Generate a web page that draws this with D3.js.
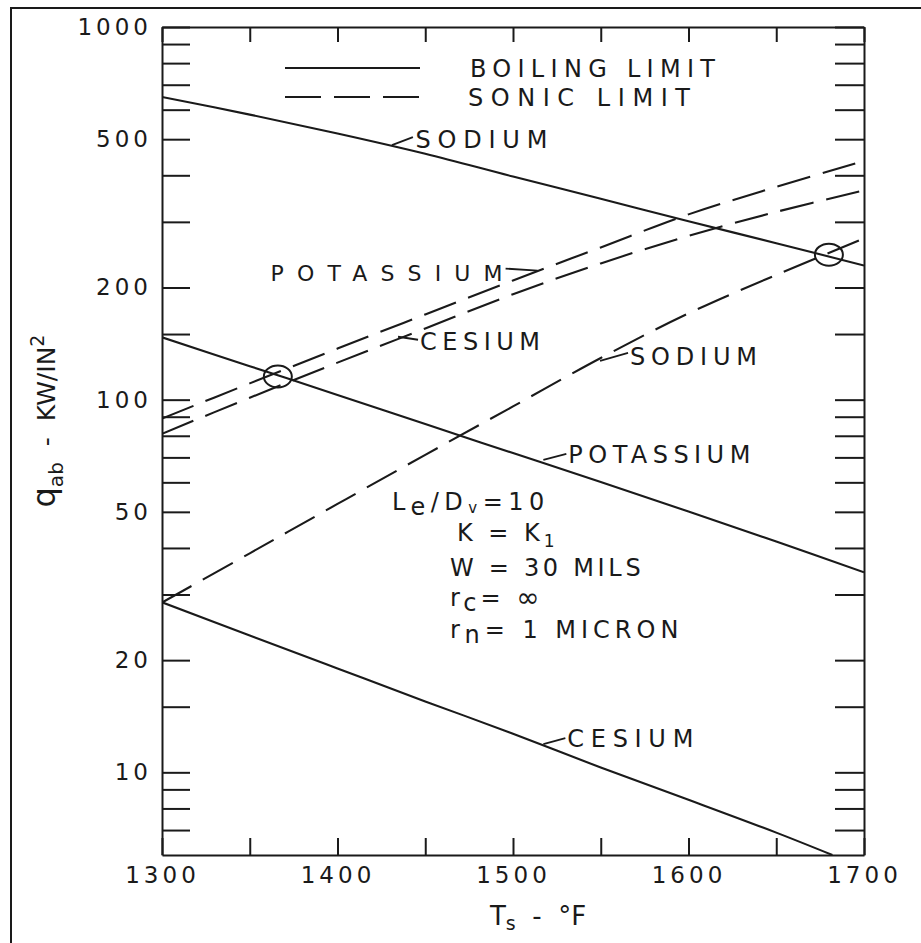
<!DOCTYPE html>
<html><head><meta charset="utf-8">
<script src="https://cdn.jsdelivr.net/npm/d3@7"></script>
<style>
html,body{margin:0;padding:0;background:#fff;}
svg{display:block;}
text{font-family:"DejaVu Sans",sans-serif;fill:#1a1a1a;}
</style></head><body>
<svg id="chart" width="921" height="943"></svg>
<script>
// ---------- data ----------
const temps = [1300, 1350, 1400, 1450, 1500, 1550, 1600, 1650, 1700];
const sodiumBoiling    = [649, 582, 518, 457, 397, 346, 301, 263, 229];
const potassiumBoiling = [147, 123, 103, 86, 71.9, 60.1, 50.1, 41.6, 34.4];
const cesiumBoilingT   = [1300, 1350, 1400, 1450, 1500, 1550, 1600, 1650, 1682];
const cesiumBoiling    = [28.6, 23.3, 19.0, 15.5, 12.7, 10.3, 8.44, 6.89, 6.0];
const potassiumSonic   = [89.0, 110.6, 137.1, 169.3, 208.9, 256.2, 314.2, 372.4, 437.3];
const cesiumSonic      = [81.0, 101.2, 125.7, 155.3, 191.8, 232.1, 275.1, 319.1, 364.5];
const sodiumSonic      = [28.55, 38.7, 52.5, 71.1, 95.9, 129.4, 170.4, 216.2, 270.8];
const transitionT = [1366, 1680];
const transitionV = [115.4, 245];

const yTicks = [7, 8, 9, 10, 15, 20, 30, 40, 50, 60, 70, 80, 90, 100, 150, 200, 300, 400, 500, 600, 700, 800, 900, 1000];
const yTickLabels = [10, 20, 50, 100, 200, 500, 1000];
const xTicks = [1300, 1350, 1400, 1450, 1500, 1550, 1600, 1650, 1700];
const xTickLabels = [1300, 1400, 1500, 1600, 1700];

const legendItems = ["BOILING LIMIT", "SONIC LIMIT"];
const labelTexts = ["SODIUM", "POTASSIUM", "CESIUM", "SODIUM", "POTASSIUM", "CESIUM"];
const labelT = [1431, 1514, 1434.5, 1549.6, 1517.3, 1517.3];
const labelV = [482, 222, 147.5, 127, 68.9, 11.9];

// ---------- layout / style ----------
const ink = "#1a1a1a";
const svg = d3.select("#chart");
const x = d3.scaleLinear().domain([1300, 1700]).range([162, 864]);
const y = d3.scaleLog().domain([6, 1000]).range([855, 27]);

// outer frame (left and top edges visible)
svg.append("path").attr("d", "M11,943V8H921").attr("fill", "none")
  .attr("stroke", ink).attr("stroke-width", 2);

function styleAxis(g) {
  g.select(".domain").attr("stroke", ink).attr("stroke-width", 2);
  g.selectAll(".tick line").attr("stroke", ink).attr("stroke-width", 2);
  g.selectAll(".tick text").attr("font-size", 23).attr("letter-spacing", "4px")
    .attr("font-family", "DejaVu Sans").attr("fill", ink);
}

svg.append("g").attr("transform", `translate(${x(1300)},0)`)
  .call(d3.axisLeft(y).tickValues(yTicks)
    .tickFormat(d => yTickLabels.includes(d) ? String(d) : "")
    .tickSize(-28).tickSizeOuter(0).tickPadding(10))
  .call(styleAxis);

svg.append("g").attr("transform", `translate(${x(1700)},0)`)
  .call(d3.axisRight(y).tickValues(yTicks).tickFormat("")
    .tickSize(-29).tickSizeOuter(0))
  .call(styleAxis);

svg.append("g").attr("transform", `translate(0,${y(1000)})`)
  .call(d3.axisTop(x).tickValues(xTicks).tickFormat("")
    .tickSize(-15).tickSizeOuter(0))
  .call(styleAxis);

svg.append("g").attr("transform", `translate(0,${y(6)})`)
  .call(d3.axisBottom(x).tickValues(xTicks)
    .tickFormat(d => xTickLabels.includes(d) ? String(d) : "")
    .tickSize(-17).tickSizeOuter(0).tickPadding(12))
  .call(styleAxis);

// clip
svg.append("clipPath").attr("id", "plotclip").append("rect")
  .attr("x", x(1300)).attr("y", y(1000)).attr("width", x(1700) - x(1300)).attr("height", y(6) - y(1000));

const line = d3.line().x(d => x(d[0])).y(d => y(d[1])).curve(d3.curveCatmullRom);
const series = [
  {t: temps, v: sodiumBoiling, dash: null},
  {t: temps, v: potassiumBoiling, dash: null},
  {t: cesiumBoilingT, v: cesiumBoiling, dash: null},
  {t: temps, v: potassiumSonic, dash: "34,13"},
  {t: temps, v: cesiumSonic, dash: "34,13"},
  {t: temps, v: sodiumSonic, dash: "34,13"}
];
const plot = svg.append("g").attr("clip-path", "url(#plotclip)");
plot.selectAll("path.series").data(series).join("path").attr("class", "series")
  .attr("d", s => line(s.t.map((t, i) => [t, s.v[i]])))
  .attr("fill", "none").attr("stroke", ink).attr("stroke-width", 2.1)
  .attr("stroke-dasharray", s => s.dash);

// transition circles
svg.selectAll("ellipse.tr").data(transitionT).join("ellipse").attr("class", "tr")
  .attr("cx", (t) => x(t)).attr("cy", (t, i) => y(transitionV[i]))
  .attr("rx", 14).attr("ry", 11).attr("fill", "none").attr("stroke", ink).attr("stroke-width", 2);

// legend
const legend = svg.append("g");
legend.append("line").attr("x1", 285).attr("x2", 420).attr("y1", 68).attr("y2", 68)
  .attr("stroke", ink).attr("stroke-width", 2);
legend.append("line").attr("x1", 285).attr("x2", 420).attr("y1", 97).attr("y2", 97)
  .attr("stroke", ink).attr("stroke-width", 2).attr("stroke-dasharray", "36,13");
legend.append("text").attr("x", 470).attr("y", 77).attr("font-size", 24)
  .attr("textLength", 245).attr("lengthAdjust", "spacing").text(legendItems[0]);
legend.append("text").attr("x", 468).attr("y", 106).attr("font-size", 24)
  .attr("textLength", 222).attr("lengthAdjust", "spacing").text(legendItems[1]);

// curve labels with leaders
const leaderOff = [[21, -8], [-32, -2], [20, 3], [28, -8], [23, -6], [22, -6]];
const textOff = [[23.5, -6], [-35, 2.5], [22, 5], [30, -5], [25, -6], [24, -6]];
const textW = [132, 232, 120, 127, 182, 126];
const textSize = [24, 22, 24, 24, 24, 24];
const textAnchor = ["start", "end", "start", "start", "start", "start"];
labelTexts.forEach((txt, i) => {
  const px = x(labelT[i]), py = y(labelV[i]);
  svg.append("line").attr("x1", px).attr("y1", py)
    .attr("x2", px + leaderOff[i][0]).attr("y2", py + leaderOff[i][1])
    .attr("stroke", ink).attr("stroke-width", 1.8);
  svg.append("text").attr("x", px + textOff[i][0]).attr("y", py + textOff[i][1])
    .attr("dy", "0.36em").attr("font-size", textSize[i]).attr("text-anchor", textAnchor[i])
    .attr("textLength", textW[i]).attr("lengthAdjust", "spacing").text(txt);
});

// parameter block
const pb = svg.append("g").attr("font-size", 24);
let t1 = pb.append("text").attr("x", 392).attr("y", 510).attr("letter-spacing", "5.5px");
t1.append("tspan").text("L");
t1.append("tspan").attr("dy", 5).text("e");
t1.append("tspan").attr("dy", -5).text("/D");
t1.append("tspan").attr("dy", 3).attr("font-size", 15).text("v");
t1.append("tspan").attr("dy", -3).text("=10");
let t2 = pb.append("text").attr("x", 457).attr("y", 541).attr("letter-spacing", "4px");
t2.append("tspan").text("K = K");
t2.append("tspan").attr("dy", 6).attr("font-size", 17).text("1");
pb.append("text").attr("x", 450).attr("y", 576).attr("letter-spacing", "3.7px").text("W = 30 MILS");
let t4 = pb.append("text").attr("x", 450).attr("y", 606).attr("letter-spacing", "4px");
t4.append("tspan").text("r");
t4.append("tspan").attr("dy", 5).text("c");
t4.append("tspan").attr("dy", -5).text("= ");
t4.append("tspan").attr("font-size", 28).attr("dy", 1).text("∞");
let t5 = pb.append("text").attr("x", 450).attr("y", 638).attr("letter-spacing", "5px");
t5.append("tspan").text("r");
t5.append("tspan").attr("dy", 5).text("n");
t5.append("tspan").attr("dy", -5).text("=  1 MICRON");

// axis titles
const yt = svg.append("text").attr("transform", "translate(55,421) rotate(-90)")
  .attr("text-anchor", "middle").attr("font-size", 25);
yt.append("tspan").attr("font-size", 32).text("q");
yt.append("tspan").attr("dy", 8).attr("font-size", 20).text("ab");
yt.append("tspan").attr("dy", -8).text("\u00a0\u00a0-\u00a0\u00a0KW/IN");
yt.append("tspan").attr("dy", -11).attr("font-size", 19).text("2");

const xt = svg.append("text").attr("x", 538).attr("y", 925).attr("text-anchor", "middle").attr("font-size", 26);
xt.append("tspan").text("T");
xt.append("tspan").attr("dy", 5).attr("font-size", 19).text("s");
xt.append("tspan").attr("dy", -5).text("\u00a0\u00a0-\u00a0\u00a0°F");
</script>
</body></html>
